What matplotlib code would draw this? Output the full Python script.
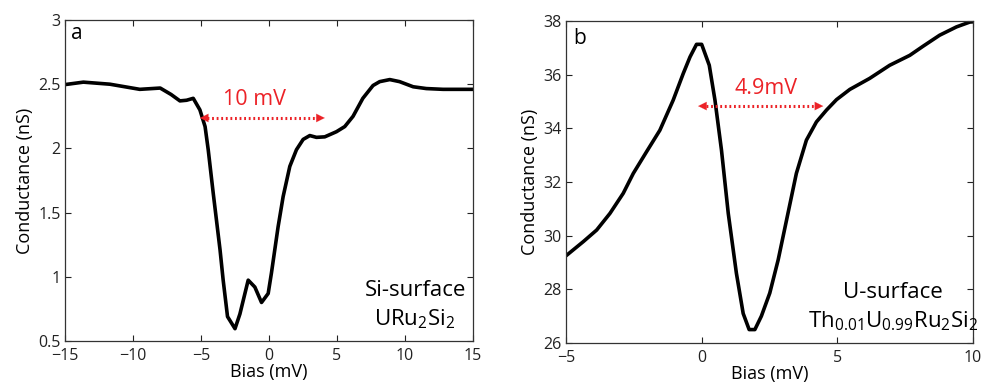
import matplotlib
matplotlib.use("Agg")
import matplotlib.pyplot as plt

plt.rcParams['font.family'] = ['Open Sans', 'DejaVu Sans']
plt.rcParams['mathtext.fontset'] = 'custom'
plt.rcParams['mathtext.rm'] = 'Open Sans'
plt.rcParams['mathtext.it'] = 'Open Sans:italic'
plt.rcParams['mathtext.bf'] = 'Open Sans:bold'

# Panel a data (Si-surface URu2Si2)
bias_a = [-15, -13.65, -11.7, -9.5, -8.0, -7.2, -6.55, -6.06, -5.57, -5.08, -4.7, -4.47,
          -4.1, -3.6, -3.37, -3.05, -2.5, -2.14, -1.53, -1.04, -0.55, -0.06, 0.18, 0.67,
          1.04, 1.53, 2.02, 2.51, 3.0, 3.49, 4.1, 4.96, 5.57, 6.18, 6.9, 7.65, 8.14, 8.88,
          9.6, 10.6, 11.57, 12.8, 15]
cond_a = [2.497, 2.516, 2.50, 2.46, 2.47, 2.42, 2.37, 2.375, 2.39, 2.30, 2.17, 1.99,
          1.65, 1.21, 0.974, 0.69, 0.596, 0.71, 0.974, 0.92, 0.80, 0.87, 1.03, 1.39,
          1.625, 1.86, 1.99, 2.07, 2.10, 2.086, 2.09, 2.13, 2.17, 2.25, 2.39, 2.49, 2.52, 2.536,
          2.52, 2.48, 2.466, 2.46, 2.46]

# Panel b data (U-surface Th0.01U0.99Ru2Si2)
bias_b = [-5, -4.36, -3.87, -3.38, -2.89, -2.52, -2.03, -1.54, -1.05, -0.68, -0.43, -0.19,
          0.0, 0.28, 0.49, 0.73, 0.98, 1.28, 1.53, 1.75, 1.96, 2.2, 2.51, 2.82, 3.13, 3.49,
          3.86, 4.23, 4.6, 4.97, 5.46, 6.19, 6.93, 7.67, 8.16, 8.77, 9.39, 9.88, 10]
cond_b = [29.25, 29.78, 30.21, 30.83, 31.58, 32.32, 33.13, 33.93, 35.05, 36.04, 36.66, 37.13,
          37.13, 36.35, 35.05, 33.19, 30.83, 28.6, 27.1, 26.5, 26.5, 27.0, 27.86, 29.1, 30.59, 32.32,
          33.56, 34.24, 34.68, 35.07, 35.45, 35.86, 36.35, 36.72, 37.06, 37.47, 37.78, 37.96, 37.97]

xticks_a = [-15, -10, -5, 0, 5, 10, 15]
yticks_a = [0.5, 1, 1.5, 2, 2.5, 3]
xticks_b = [-5, 0, 5, 10]
yticks_b = [26, 28, 30, 32, 34, 36, 38]

gap_a = (-5.08, 4.1, 2.237, "10 mV", -1.04, 2.38)
gap_b = (-0.13, 4.48, 34.83, "4.9mV", 2.39, 35.48)

red = '#ec2227'

fig = plt.figure(figsize=(9.81, 3.85), dpi=100)
ax1 = fig.add_axes([65/981, 1-341/385, 408/981, 321/385])
ax2 = fig.add_axes([566/981, 1-343/385, 407/981, 322/385])


def style(ax, xlim, ylim, xt, yt):
    ax.set_xlim(*xlim)
    ax.set_ylim(*ylim)
    ax.set_xticks(xt)
    ax.set_yticks(yt)
    ax.set_yticklabels(['%g' % v for v in yt])
    ax.tick_params(direction='in', top=True, right=True, length=4, width=0.8,
                   labelsize=11.5, colors='#222222')
    ax.tick_params(axis='x', pad=5)
    ax.tick_params(axis='y', pad=3)
    for s in ax.spines.values():
        s.set_linewidth(0.9)
        s.set_color('#333333')
    ax.set_xlabel('Bias (mV)', fontsize=13, labelpad=-1)
    ax.set_ylabel('Conductance (nS)', fontsize=13, labelpad=3)


def gap_arrow(ax, g):
    x0, x1, y, label, tx, ty = g
    span = x1 - x0
    ax.plot([x0 + 0.06 * span, x1 - 0.06 * span], [y, y], color=red, lw=2.2,
            linestyle=(0, (0.6, 0.9)))
    ax.annotate('', xy=(x0, y), xytext=(x0 + 0.08 * span, y),
                arrowprops=dict(arrowstyle='-|>,head_length=0.6,head_width=0.3',
                                color=red, lw=0.1, shrinkA=0, shrinkB=0))
    ax.annotate('', xy=(x1, y), xytext=(x1 - 0.08 * span, y),
                arrowprops=dict(arrowstyle='-|>,head_length=0.6,head_width=0.3',
                                color=red, lw=0.1, shrinkA=0, shrinkB=0))
    ax.text(tx, ty, label, color=red, fontsize=15.5, ha='center', va='center')


ax1.plot(bias_a, cond_a, color='black', lw=2.6, solid_joinstyle='round')
style(ax1, (-15, 15), (0.5, 3), xticks_a, yticks_a)
gap_arrow(ax1, gap_a)
ax1.text(0.015, 0.94, 'a', transform=ax1.transAxes, fontsize=15, ha='left', va='baseline')
ax1.text(0.858, 0.14, 'Si-surface', transform=ax1.transAxes, fontsize=16, ha='center', va='baseline')
ax1.text(0.858, 0.05, r'URu$_2$Si$_2$', transform=ax1.transAxes, fontsize=16, ha='center', va='baseline')

ax2.plot(bias_b, cond_b, color='black', lw=2.6, solid_joinstyle='round')
style(ax2, (-5, 10), (26, 38), xticks_b, yticks_b)
gap_arrow(ax2, gap_b)
ax2.text(0.017, 0.93, 'b', transform=ax2.transAxes, fontsize=15, ha='left', va='baseline')
ax2.text(0.803, 0.14, 'U-surface', transform=ax2.transAxes, fontsize=16, ha='center', va='baseline')
ax2.text(0.803, 0.047, r'Th$_{0.01}$U$_{0.99}$Ru$_2$Si$_2$', transform=ax2.transAxes,
         fontsize=16, ha='center', va='baseline')

fig.savefig('out.png', dpi=100)
